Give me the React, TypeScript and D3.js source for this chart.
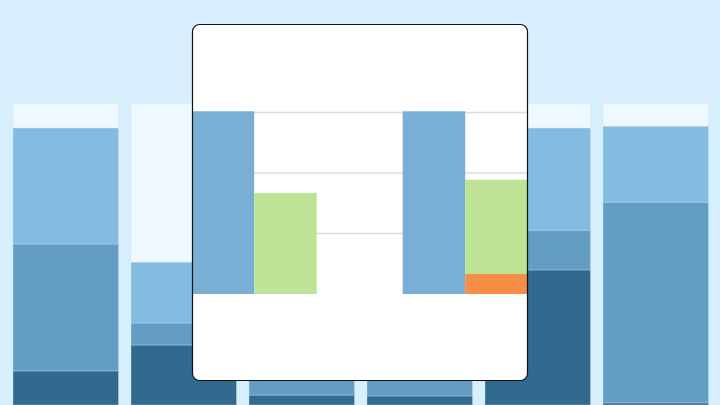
import React from "react";
import * as d3 from "d3";

// Background stacked columns (percent of column height)
const bgColumns = ["c1", "c2", "c3", "c4", "c5", "c6"];
const bgDark = [11.3, 19.9, 3.3, 3.0, 44.8, 0.7];
const bgMid = [42.1, 7.3, 40.0, 30.0, 13.2, 66.6];
const bgLight = [38.5, 20.2, 35.0, 40.0, 33.9, 25.2];
const bgTotal = 100;

// Card chart: two groups, a blue bar and a stacked bar (orange bottom + green top)
const groups = ["G1", "G2"];
const blueValues = [30.2, 30.2];
const orangeValues = [0, 3.3];
const greenValues = [16.7, 15.6];
const gridTicks = [10, 20, 30];

const W = 720;
const H = 405;

export default function App() {
  // background scales
  const bx = d3
    .scaleBand<string>()
    .domain(bgColumns)
    .range([13, 708.5])
    .paddingInner(0.106)
    .paddingOuter(0);
  const by = d3.scaleLinear().domain([0, bgTotal]).range([405, 103.5]);

  const bgStacks = bgColumns.map((c, i) => {
    const d0 = bgDark[i];
    const m0 = d0 + bgMid[i];
    const l0 = m0 + bgLight[i];
    return [
      { c, y0: 0, y1: d0, fill: "#32698f" },
      { c, y0: d0, y1: m0, fill: "#649dc3" },
      { c, y0: m0, y1: l0, fill: "#84bbe0" },
      { c, y0: l0, y1: bgTotal, fill: "#eef8fe" },
    ];
  });

  // card geometry
  const card = { x: 192.5, y: 24.5, w: 335, h: 356, r: 7 };

  // chart scales
  const gx = d3.scaleBand<string>().domain(groups).range([191.7, 613.7]).padding(0);
  const sx = d3.scaleBand<string>().domain(["blue", "stack"]).range([0, 125]).padding(0);
  const y = d3.scaleLinear().domain([0, 30]).range([294, 112.5]);

  return (
    <svg
      width={W}
      height={H}
      viewBox={`0 0 ${W} ${H}`}
      style={{ position: "fixed", left: 0, top: 0, display: "block" }}
    >
      <defs>
        <clipPath id="cardClip">
          <rect x={card.x} y={card.y} width={card.w} height={card.h} rx={card.r} ry={card.r} />
        </clipPath>
      </defs>
      <rect x={0} y={0} width={W} height={H} fill="#d7eefc" />

      {bgStacks.map((segs, i) =>
        segs.map((s, j) => (
          <rect
            key={`bg-${i}-${j}`}
            x={bx(s.c)!}
            y={by(s.y1)}
            width={bx.bandwidth()}
            height={by(s.y0) - by(s.y1)}
            fill={s.fill}
            stroke="#cfe6f6"
            strokeOpacity={0.6}
            strokeWidth={0.6}
          />
        ))
      )}

      <rect
        x={card.x}
        y={card.y}
        width={card.w}
        height={card.h}
        rx={card.r}
        ry={card.r}
        fill="#ffffff"
      />
      <g clipPath="url(#cardClip)">
        {gridTicks.map((t) => (
          <line
            key={`g-${t}`}
            x1={card.x}
            x2={card.x + card.w}
            y1={y(t)}
            y2={y(t)}
            stroke="#dcdcdc"
            strokeWidth={1.5}
          />
        ))}
        {groups.map((g, i) => {
          const x0 = gx(g)!;
          const bw = sx.bandwidth();
          return (
            <g key={`grp-${g}`}>
              <rect
                x={x0 + sx("blue")!}
                y={y(blueValues[i])}
                width={bw}
                height={y(0) - y(blueValues[i])}
                fill="#79afd4"
              />
              <rect
                x={x0 + sx("stack")!}
                y={y(orangeValues[i] + greenValues[i])}
                width={bw}
                height={y(orangeValues[i]) - y(orangeValues[i] + greenValues[i])}
                fill="#bee397"
              />
              <rect
                x={x0 + sx("stack")!}
                y={y(orangeValues[i])}
                width={bw}
                height={y(0) - y(orangeValues[i])}
                fill="#f68e45"
              />
            </g>
          );
        })}
      </g>
      <rect
        x={card.x}
        y={card.y}
        width={card.w}
        height={card.h}
        rx={card.r}
        ry={card.r}
        fill="none"
        stroke="#111111"
        strokeWidth={1.2}
      />
    </svg>
  );
}
